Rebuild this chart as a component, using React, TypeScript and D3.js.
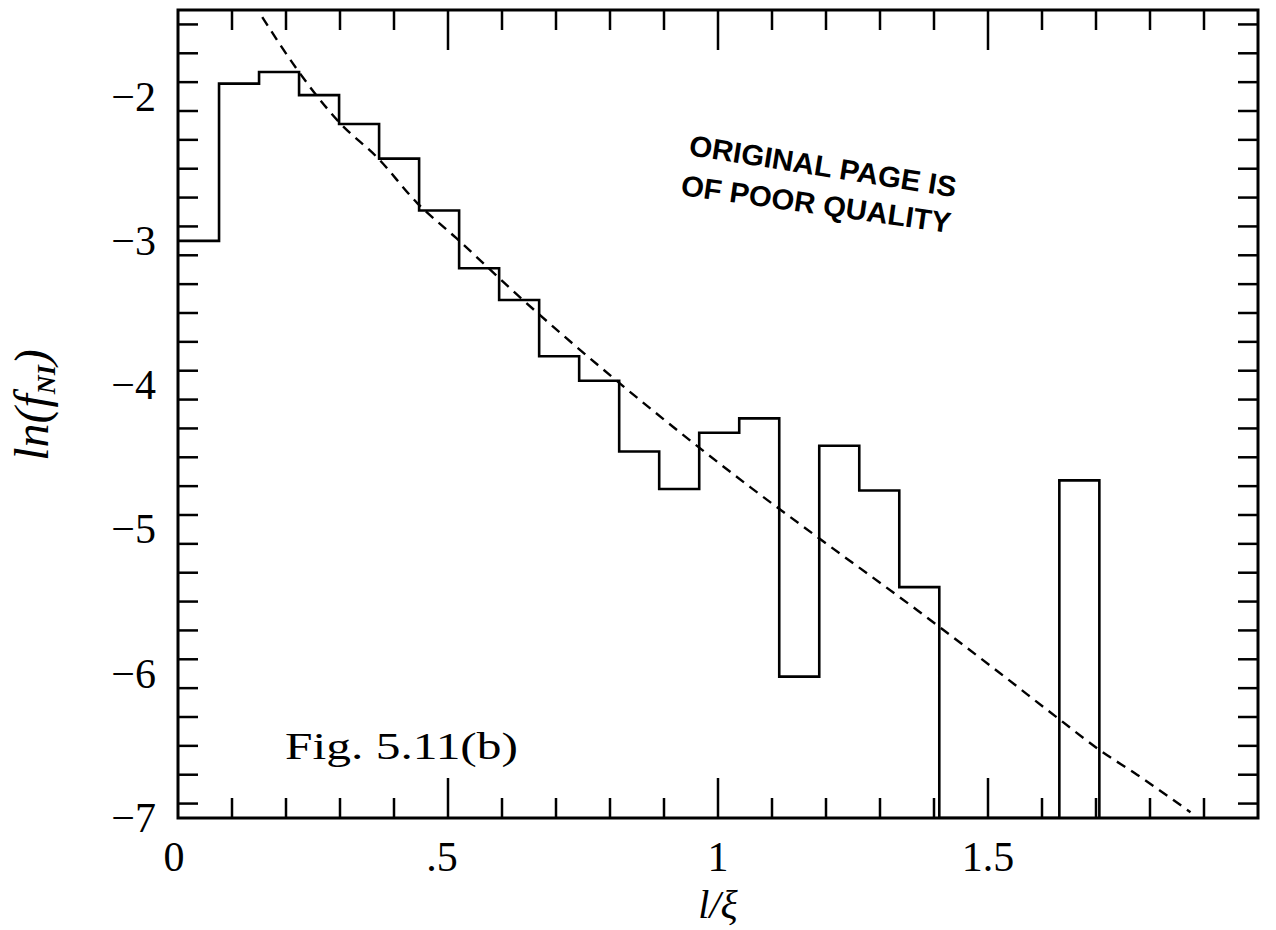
import React from "react";
import * as d3 from "d3";

// ---- data ----
const binStart = 0.076; // left edge of first plotted bin (l/ξ)
const binWidth = 0.0741; // bin width (l/ξ)
const leadValue = -3.0; // level drawn before first bin
// ln(f_NI) per bin; null = empty bin (drawn at the bottom of the frame)
const binValues: (number | null)[] = [
  -1.91, -1.83, -1.99, -2.19, -2.43, -2.79, -3.19, -3.41, -3.8, -3.97, -4.46,
  -4.72, -4.33, -4.23, -6.02, -4.42, -4.73, -5.4, null, null, null, -4.66,
];
// dashed fitted curve
const fitX = [0.156, 0.224, 0.298, 0.37, 0.443, 0.515, 0.633, 0.806, 0.954, 1.059, 1.183, 1.369, 1.52, 1.63, 1.707, 1.776, 1.875];
const fitY = [-1.449, -1.83, -2.176, -2.426, -2.738, -2.98, -3.39, -3.95, -4.4, -4.705, -5.05, -5.56, -5.99, -6.31, -6.53, -6.7, -6.96];

const xTickLabels = [
  { v: 0, t: "0" },
  { v: 0.5, t: ".5" },
  { v: 1, t: "1" },
  { v: 1.5, t: "1.5" },
];
const yTickLabels = [-2, -3, -4, -5, -6, -7];

const W = 1276;
const H = 930;

export default function App() {
  const x = d3.scaleLinear().domain([0, 2]).range([178, 1258]);
  const y = d3.scaleLinear().domain([-7, -1.4]).range([818, 10]);
  const yMin = -7;

  // histogram step path
  const pts: [number, number][] = [];
  pts.push([0, leadValue]);
  binValues.forEach((v, i) => {
    const x0 = binStart + i * binWidth;
    const x1 = x0 + binWidth;
    const val = v === null ? yMin : v;
    pts.push([x0, i === 0 ? leadValue : pts[pts.length - 1][1]]);
    pts.push([x0, val]);
    pts.push([x1, val]);
  });
  const lastEdge = binStart + binValues.length * binWidth;
  pts.push([lastEdge, yMin]);
  const stepLine = d3
    .line<[number, number]>()
    .x((d) => x(d[0]))
    .y((d) => y(d[1]));

  const fitLine = d3
    .line<number>()
    .x((d) => x(d))
    .y((_, i) => y(fitY[i]))
    .curve(d3.curveMonotoneX);

  const xMinor = d3.range(1, 20).map((i) => i / 10);
  const yMinor = d3.range(-69, -14, 2).map((i) => i / 10);

  const serif = "'Liberation Serif', 'DejaVu Serif', serif";
  const majorLen = 40;
  const minorLen = 20;
  const [xl, xr] = x.range();
  const [yb, yt] = y.range();

  return (
    <svg
      width={W}
      height={H}
      viewBox={`0 0 ${W} ${H}`}
      style={{ position: "absolute", left: 0, top: 0, background: "#fff" }}
    >
      <defs>
        <clipPath id="plotClip">
          <rect x={xl} y={yt} width={xr - xl} height={yb - yt} />
        </clipPath>
      </defs>
      <rect x={0} y={0} width={W} height={H} fill="#fff" />

      {/* ticks */}
      <g stroke="#000" strokeWidth={2.5}>
        {xMinor.map((v) => {
          const major = Math.abs(v * 2 - Math.round(v * 2)) < 1e-6;
          const len = major ? majorLen : minorLen;
          return (
            <g key={"xt" + v}>
              <line x1={x(v)} x2={x(v)} y1={yb} y2={yb - len} />
              <line x1={x(v)} x2={x(v)} y1={yt} y2={yt + len} />
            </g>
          );
        })}
        {yMinor.map((v) => {
          const major = Math.abs(v - Math.round(v)) < 1e-6;
          const len = major ? majorLen : minorLen;
          return (
            <g key={"yt" + v}>
              <line x1={xl} x2={xl + len} y1={y(v)} y2={y(v)} />
              <line x1={xr} x2={xr - len} y1={y(v)} y2={y(v)} />
            </g>
          );
        })}
      </g>

      {/* histogram */}
      <path
        d={stepLine(pts) || ""}
        fill="none"
        stroke="#000"
        strokeWidth={2.6}
        strokeLinejoin="miter"
        clipPath="url(#plotClip)"
      />

      {/* dashed fit */}
      <path
        d={fitLine(fitX) || ""}
        fill="none"
        stroke="#000"
        strokeWidth={2.4}
        strokeDasharray="10 7"
        clipPath="url(#plotClip)"
      />

      {/* frame */}
      <rect
        x={xl}
        y={yt}
        width={xr - xl}
        height={yb - yt}
        fill="none"
        stroke="#000"
        strokeWidth={3}
      />

      {/* tick labels */}
      <g fontFamily={serif} fontSize={42} fill="#000">
        {xTickLabels.map((d) => (
          <text key={"xl" + d.v} x={x(d.v) - (d.v === 0 ? 4 : d.v === 0.5 ? 6 : 0)} y={871} textAnchor="middle">
            {d.t}
          </text>
        ))}
        {yTickLabels.map((v) => (
          <text key={"yl" + v} x={156} y={y(v) + 14} textAnchor="end">
            {"\u2212" + Math.abs(v)}
          </text>
        ))}
      </g>

      {/* axis titles */}
      <text
        fontFamily={serif}
        fontStyle="italic"
        fontSize={40}
        textAnchor="middle"
        x={718}
        y={918}
      >
        l/ξ
      </text>
      <text
        fontFamily={serif}
        fontStyle="italic"
        fontSize={48}
        textAnchor="middle"
        transform={`translate(48,405) rotate(-90)`}
      >
        ln(f
        <tspan fontSize={26} fontWeight="bold" dy={7}>
          NI
        </tspan>
        <tspan dy={-7}>)</tspan>
      </text>

      {/* figure label */}
      <text
        fontFamily={serif}
        fontSize={38}
        x={285}
        y={759}
        textLength={233}
        lengthAdjust="spacingAndGlyphs"
      >
        Fig.  5.11(b)
      </text>

      {/* stamp */}
      <g
        fontFamily="'Liberation Sans', Arial, sans-serif"
        fontWeight="bold"
        fontSize={29}
        fill="#000"
      >
        <text transform="translate(688,155) rotate(9)" textLength={270} lengthAdjust="spacingAndGlyphs">
          ORIGINAL PAGE IS
        </text>
        <text transform="translate(680,195) rotate(8)" textLength={272} lengthAdjust="spacingAndGlyphs">
          OF POOR QUALITY
        </text>
      </g>
    </svg>
  );
}
